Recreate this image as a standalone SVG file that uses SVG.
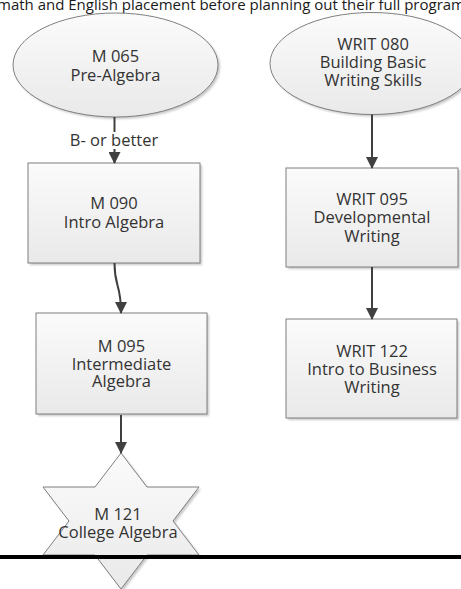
<svg xmlns="http://www.w3.org/2000/svg" width="461" height="589" viewBox="0 0 461 589">
  <defs>
    <linearGradient id="shapeFill" x1="0" y1="0" x2="0" y2="1">
      <stop offset="0" stop-color="#fbfbfb"/>
      <stop offset="1" stop-color="#e9e9e9"/>
    </linearGradient>
    <filter id="softShadow" x="-10%" y="-10%" width="130%" height="130%">
      <feGaussianBlur stdDeviation="1.2"/>
    </filter>
    <marker id="arrowHead" viewBox="0 0 12 12" refX="11" refY="6" markerWidth="12" markerHeight="12" markerUnits="userSpaceOnUse" orient="auto">
      <path d="M0,0 L12,6 L0,12 Z" fill="#404040"/>
    </marker>
  </defs>
  <style>
    .shape { fill: url(#shapeFill); stroke: #7f7f7f; stroke-width: 1; }
    .shadow { fill: #c8c8c8; filter: url(#softShadow); }
    .label { font-family: "Open Sans", "Noto Sans", sans-serif; font-size: 16.5px; fill: #333333; text-anchor: middle; }
    .title { font-family: "Open Sans", "Noto Sans", sans-serif; font-size: 15px; fill: #1a1a1a; }
    .conn { fill: none; stroke: #404040; stroke-width: 2; marker-end: url(#arrowHead); }
  </style>

  <rect width="461" height="589" fill="#ffffff"/>

  <text class="title" x="-3" y="9.5" textLength="468" lengthAdjust="spacingAndGlyphs">math and English placement before planning out their full program</text>

  <!-- math sequence -->
  <g id="m065">
    <ellipse class="shadow" cx="117.5" cy="67" rx="102.5" ry="52"/>
    <ellipse class="shape" cx="115.5" cy="65" rx="102.5" ry="52"/>
    <text class="label" x="115.5" y="62">M 065</text>
    <text class="label" x="115.5" y="81">Pre-Algebra</text>
  </g>

  <g id="m090">
    <rect class="shadow" x="30" y="165" width="172" height="100"/>
    <rect class="shape" x="28" y="163" width="172" height="100"/>
    <text class="label" x="114" y="209">M 090</text>
    <text class="label" x="114" y="227.5">Intro Algebra</text>
  </g>

  <g id="m095">
    <rect class="shadow" x="38" y="315" width="171" height="101"/>
    <rect class="shape" x="36" y="313" width="171" height="101"/>
    <text class="label" x="121.5" y="352">M 095</text>
    <text class="label" x="121.5" y="369.5">Intermediate</text>
    <text class="label" x="121.5" y="387">Algebra</text>
  </g>

  <g id="m121">
    <polygon class="shadow" transform="translate(2,2)" points="121,453 147,487 199,487 173,521 199,555 147,555 121,589 95,555 43,555 69,521 43,487 95,487"/>
    <polygon class="shape" points="121,453 147,487 199,487 173,521 199,555 147,555 121,589 95,555 43,555 69,521 43,487 95,487"/>
    <text class="label" x="118" y="520">M 121</text>
    <text class="label" x="118" y="538">College Algebra</text>
  </g>

  <!-- writing sequence -->
  <g id="writ080">
    <ellipse class="shadow" cx="374" cy="65.5" rx="102" ry="51"/>
    <ellipse class="shape" cx="372" cy="63.5" rx="102" ry="51"/>
    <text class="label" x="373" y="50">WRIT 080</text>
    <text class="label" x="373" y="68">Building Basic</text>
    <text class="label" x="373" y="86">Writing Skills</text>
  </g>

  <g id="writ095">
    <rect class="shadow" x="288" y="170" width="172" height="99"/>
    <rect class="shape" x="286" y="168" width="172" height="99"/>
    <text class="label" x="372" y="205">WRIT 095</text>
    <text class="label" x="372" y="223">Developmental</text>
    <text class="label" x="372" y="241.5">Writing</text>
  </g>

  <g id="writ122">
    <rect class="shadow" x="288" y="321" width="171" height="99"/>
    <rect class="shape" x="286" y="319" width="171" height="99"/>
    <text class="label" x="372" y="357">WRIT 122</text>
    <text class="label" x="372" y="375">Intro to Business</text>
    <text class="label" x="372" y="393">Writing</text>
  </g>

  <g id="connectors">
    <line x1="114.5" y1="117" x2="114.5" y2="163" class="conn"/>
    <path d="M114.5,263 C114.5,288 121,283 121,313" class="conn"/>
    <line x1="121" y1="415" x2="121" y2="453" class="conn"/>
    <line x1="372" y1="114.5" x2="372" y2="168" class="conn"/>
    <line x1="372" y1="267" x2="372" y2="319" class="conn"/>
    <rect x="68" y="132" width="92" height="17" fill="#ffffff"/>
    <text class="label" x="114" y="145.5">B- or better</text>
  </g>

  <!-- page rule -->
  <line x1="0" y1="557" x2="461" y2="557" stroke="#000000" stroke-width="4"/>
</svg>
